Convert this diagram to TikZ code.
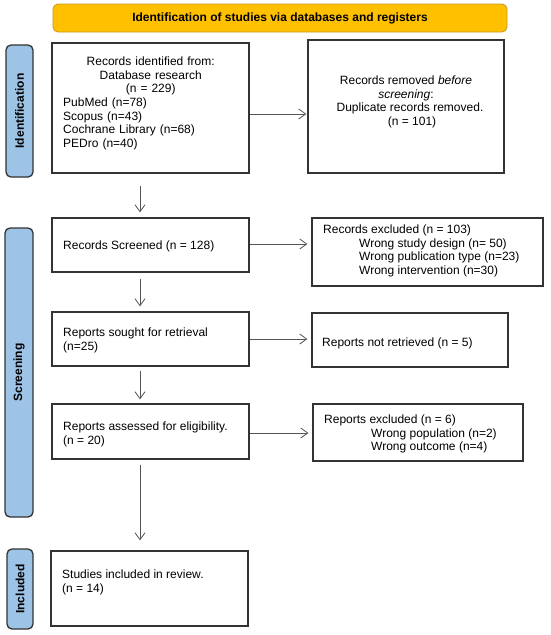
\documentclass[tikz,border=0pt]{standalone}
\usepackage{fontspec}
\setmainfont{Liberation Sans}
\usetikzlibrary{arrows.meta,calc}
\definecolor{bannerfill}{HTML}{FFC000}
\definecolor{bannerdraw}{HTML}{C99A1E}
\definecolor{phasefill}{HTML}{9DC3E6}
\definecolor{boxdraw}{HTML}{333333}
\definecolor{arrowcol}{HTML}{555555}
\begin{document}
\begin{tikzpicture}[x=1pt,y=-1pt,
  box/.style={draw=boxdraw, line width=1.2pt, inner sep=0pt, fill=white},
  banner/.style={draw=bannerdraw, fill=bannerfill, rounded corners=5pt, line width=0.8pt, inner sep=0pt, font=\fontsize{12}{14}\selectfont\bfseries},
  phase/.style={draw=boxdraw, fill=phasefill, rounded corners=5pt, line width=1.3pt, inner sep=0pt, rotate=90, font=\fontsize{12}{14}\selectfont\bfseries},
  txt/.style={font=\fontsize{12}{13.7}\selectfont, inner sep=0pt, align=left},
  ctxt/.style={font=\fontsize{12}{13.7}\selectfont, inner sep=0pt, align=center},
  arr/.style={draw=arrowcol, line width=0.8pt, -{Straight Barb[length=7pt,width=10pt]}}]
\fill[white] (0,0) rectangle (550,635);
\useasboundingbox (0,0) rectangle (550,635);

% banner
\node[banner, minimum width=454pt, minimum height=28pt] (ban) at (280,18) {Identification of studies via databases and registers};

% phase labels
\node[phase, minimum width=132pt, minimum height=27pt] (pid) at (19.5,111) {Identification};
\node[phase, minimum width=289pt, minimum height=28pt] (psc) at (19,372.5) {Screening};
\node[phase, minimum width=80pt, minimum height=26pt] (pin) at (20,589) {Included};

% boxes
\node[box, minimum width=197pt, minimum height=130pt] (b1) at (150.5,108) {};
\node[box, minimum width=196pt, minimum height=133pt] (b2) at (406,106.5) {};
\node[box, minimum width=197pt, minimum height=54pt] (b3) at (150.5,245) {};
\node[box, minimum width=231pt, minimum height=68pt] (b4) at (427.5,252) {};
\node[box, minimum width=197pt, minimum height=54pt] (b5) at (150.5,339) {};
\node[box, minimum width=196pt, minimum height=54pt] (b6) at (410,340) {};
\node[box, minimum width=197pt, minimum height=55pt] (b7) at (150.5,431.5) {};
\node[box, minimum width=210pt, minimum height=57pt] (b8) at (418,432.5) {};
\node[box, minimum width=197pt, minimum height=75pt] (b9) at (149.5,588.5) {};

% texts
\node[anchor=north west, font=\fontsize{12}{13.7}\selectfont, inner sep=0pt, text width=175pt] (t1) at (63,56.5)
  {{\centering Records identified from:\\Database research\\(n = 229)\par}\raggedright PubMed (n=78)\\Scopus (n=43)\\Cochrane Library (n=68)\\PEDro (n=40)};
\node[ctxt, anchor=north] (t2) at (406,75.5)
  {Records removed \textit{before}\\\textit{screening}:\\\hspace*{8pt}Duplicate records removed.\\\hspace*{12pt}(n = 101)};
\node[txt, anchor=north west] (t3) at (63,240.5) {Records Screened (n = 128)};
\node[txt, anchor=north west] (t4) at (323,224.5)
  {Records excluded (n = 103)\\\hspace*{36pt}Wrong study design (n= 50)\\\hspace*{36pt}Wrong publication type (n=23)\\\hspace*{36pt}Wrong intervention (n=30)};
\node[txt, anchor=north west] (t5) at (63,327.5) {Reports sought for retrieval\\(n=25)};
\node[txt, anchor=north west] (t6) at (322,337.5) {Reports not retrieved (n = 5)};
\node[txt, anchor=north west] (t7) at (63,421.5) {Reports assessed for eligibility.\\(n = 20)};
\node[txt, anchor=north west] (t8) at (324,414.5)
  {Reports excluded (n = 6)\\\hspace*{47pt}Wrong population (n=2)\\\hspace*{47pt}Wrong outcome (n=4)};
\node[txt, anchor=north west] (t9) at (62,569.5) {Studies included in review.\\(n = 14)};

% horizontal arrows
\draw[arr, shorten >=1pt] ([yshift=-6pt]b1.east) -- ([yshift=-6pt]b1.east -| b2.west);
\draw[arr, shorten >=4pt] ([yshift=1pt]b3.east) -- ([yshift=1pt]b3.east -| b4.west);
\draw[arr, shorten >=4pt] (b5.east) -- (b5.east -| b6.west);
\draw[arr, shorten >=4pt] ([yshift=-1.5pt]b7.east) -- ([yshift=-1.5pt]b7.east -| b8.west);

% vertical arrows
\draw[arr, shorten <=12pt, shorten >=5pt] ([xshift=-10.5pt]b1.south) -- ([xshift=-10.5pt]b1.south |- b3.north);
\draw[arr, shorten <=6pt, shorten >=5pt] ([xshift=-10.5pt]b3.south) -- ([xshift=-10.5pt]b3.south |- b5.north);
\draw[arr, shorten <=4pt, shorten >=4pt] ([xshift=-10.5pt]b5.south) -- ([xshift=-10.5pt]b5.south |- b7.north);
\draw[arr, shorten <=5pt, shorten >=10pt] ([xshift=-10.5pt]b7.south) -- ([xshift=-10.5pt]b7.south |- b9.north);
\end{tikzpicture}
\end{document}
